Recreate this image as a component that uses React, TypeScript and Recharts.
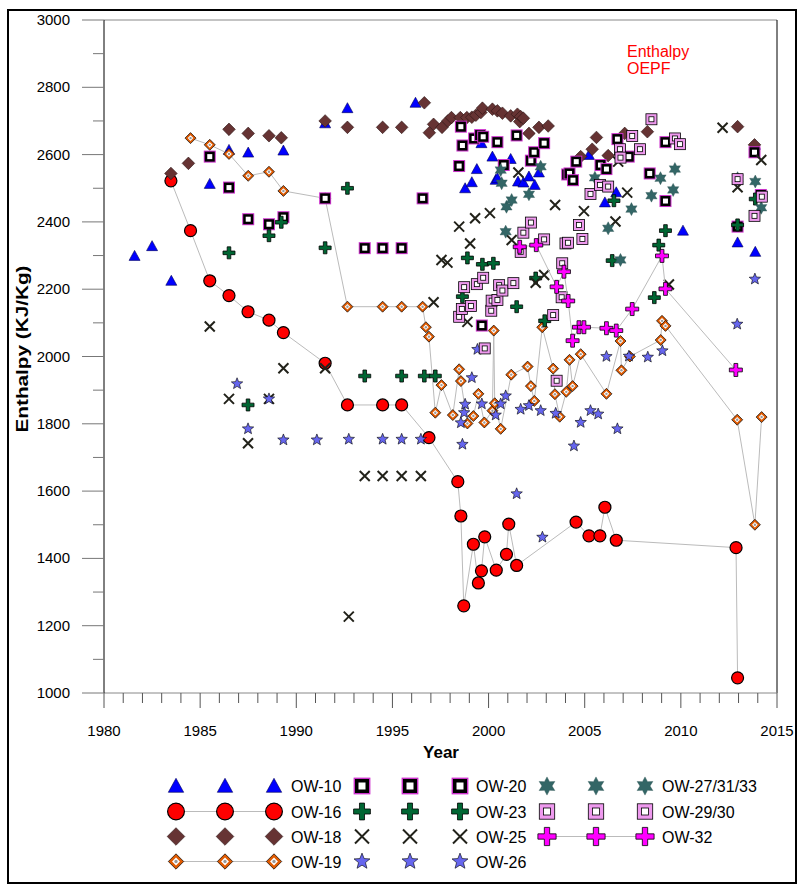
import { ScatterChart, Scatter, XAxis, YAxis, ReferenceLine } from 'recharts'

type Pt = [number, number]

// [year, enthalpy kJ/kg]
const OW10: Pt[] = [
  [1981.59, 2299], [1982.5, 2328], [1983.5, 2225], [1985.5, 2513], [1986.5, 2614], [1987.5, 2606],
  [1989.33, 2612], [1991.5, 2693], [1992.66, 2738], [1996.2, 2754], [1998.78, 2500], [1999.13, 2518],
  [1999.39, 2557], [1999.63, 2634], [2000.2, 2594], [2000.37, 2525], [2000.46, 2530], [2001.15, 2587],
  [2001.53, 2520], [2001.81, 2517], [2002.1, 2535], [2002.4, 2510], [2002.62, 2547], [2005.22, 2599],
  [2006.05, 2458], [2006.64, 2488], [2010.11, 2374], [2012.95, 2339], [2013.85, 2629], [2013.87, 2311],
]
const OW16: Pt[] = [
  [1983.48, 2522], [1984.5, 2374], [1985.5, 2225], [1986.5, 2181], [1987.49, 2133], [1988.58, 2108],
  [1989.33, 2071], [1991.5, 1980], [1992.66, 1856], [1994.49, 1856], [1995.48, 1856], [1996.9, 1759],
  [1998.4, 1628], [1998.56, 1526], [1998.71, 1259], [1999.21, 1442], [1999.47, 1327], [1999.63, 1363],
  [1999.8, 1464], [2000.4, 1365], [2000.93, 1412], [2001.05, 1502], [2001.46, 1379], [2004.55, 1508],
  [2005.22, 1467], [2005.79, 1467], [2006.05, 1552], [2006.64, 1454], [2012.87, 1432], [2012.95, 1045],
]
const OW18: Pt[] = [
  [1983.48, 2544], [1984.39, 2574], [1986.5, 2675], [1987.5, 2663], [1988.58, 2656], [1989.22, 2650],
  [1991.5, 2700], [1992.66, 2681], [1994.49, 2681], [1995.48, 2681], [1996.66, 2754], [1996.92, 2665],
  [1997.14, 2690], [1997.58, 2681], [1997.88, 2700], [1998.07, 2710], [1998.53, 2710], [1998.87, 2710],
  [1999.13, 2711], [1999.34, 2717], [1999.6, 2725], [1999.68, 2738], [2000.2, 2735], [2000.46, 2730],
  [2000.72, 2723], [2001.15, 2715], [2001.5, 2720], [2001.62, 2698], [2001.67, 2713], [2001.81, 2708],
  [2002.1, 2663], [2002.62, 2681], [2003.1, 2685], [2004.79, 2594], [2005.39, 2616], [2005.61, 2651],
  [2006.22, 2597], [2007.08, 2663], [2008.26, 2668], [2012.95, 2683], [2013.83, 2629],
]
const OW19: Pt[] = [
  [1984.5, 2649], [1985.5, 2629], [1986.5, 2602], [1987.5, 2537], [1988.58, 2549], [1989.33, 2492],
  [1991.5, 2470], [1992.66, 2148], [1994.49, 2148], [1995.48, 2148], [1996.57, 2148], [1996.74, 2087],
  [1996.9, 2059], [1997.23, 1833], [1997.55, 1915], [1998.14, 1826], [1998.47, 1962], [1998.56, 1927],
  [1998.9, 1801], [1999.21, 1823], [1999.47, 1889], [1999.78, 1804], [2000.2, 1839], [2000.27, 2077],
  [2000.32, 1861], [2000.63, 1785], [2001.18, 1946], [2002.03, 1970], [2002.2, 1912], [2002.38, 1868],
  [2002.79, 2087], [2003.36, 1964], [2003.45, 1888], [2003.7, 1821], [2004.04, 1895], [2004.21, 1990],
  [2004.37, 1912], [2004.79, 2007], [2006.13, 1889], [2006.86, 2046], [2006.91, 1959], [2007.35, 2000],
  [2008.95, 2049], [2009.02, 2106], [2009.2, 2091], [2012.93, 1812], [2013.85, 1500], [2014.2, 1820],
]
const OW20: Pt[] = [
  [1985.5, 2594], [1986.5, 2502], [1987.5, 2408], [1988.58, 2393], [1989.33, 2414], [1991.5, 2470],
  [1993.56, 2322], [1994.49, 2322], [1995.48, 2322], [1996.57, 2470], [1998.47, 2566], [1998.56, 2683],
  [1998.64, 2627], [1999.25, 2648], [1999.56, 2658], [1999.65, 2092], [1999.72, 2653], [2000.46, 2637],
  [2000.79, 2569], [2001.46, 2657], [2002.2, 2582], [2002.37, 2607], [2002.89, 2634], [2004.09, 2541],
  [2004.21, 2544], [2004.39, 2524], [2004.56, 2579], [2005.82, 2569], [2006.13, 2557], [2006.7, 2646],
  [2007.29, 2594], [2008.38, 2544], [2009.2, 2462], [2009.2, 2637], [2012.95, 2386], [2013.83, 2607],
  [2014.16, 2480],
]
const OW23: Pt[] = [
  [1986.5, 2308], [1987.49, 1856], [1988.58, 2359], [1989.22, 2399], [1991.5, 2323], [1992.66, 2500],
  [1993.56, 1942], [1995.48, 1942], [1996.66, 1942], [1997.23, 1942], [1998.64, 2178], [1998.9, 2293],
  [1999.68, 2274], [2000.25, 2277], [2001.46, 2148], [2002.45, 2233], [2002.92, 2106], [2006.43, 2285],
  [2006.52, 2463], [2008.62, 2175], [2008.85, 2331], [2009.2, 2374], [2012.95, 2391], [2013.87, 2468],
]
const OW25: Pt[] = [
  [1985.5, 2089], [1986.5, 1874], [1987.49, 1742], [1988.58, 1874], [1989.33, 1965], [1991.5, 1965],
  [1992.73, 1227], [1993.56, 1645], [1994.49, 1645], [1995.48, 1645], [1996.48, 1645], [1997.14, 2161],
  [1997.55, 2287], [1997.86, 2279], [1998.47, 2386], [1998.9, 2103], [1999.04, 2336], [1999.3, 2411],
  [2000.07, 2426], [2001.2, 2346], [2001.55, 2547], [2002.45, 2219], [2002.89, 2242], [2003.46, 2450],
  [2004.96, 2432], [2006.6, 2401], [2006.74, 2579], [2007.21, 2487], [2009.38, 2214], [2012.17, 2680],
  [2012.95, 2503], [2014.18, 2584],
]
const OW26: Pt[] = [
  [1986.92, 1919], [1987.49, 1785], [1988.58, 1874], [1989.33, 1752], [1991.07, 1752], [1992.73, 1754],
  [1994.49, 1754], [1995.48, 1754], [1996.48, 1754], [1998.56, 1803], [1998.64, 1739], [1998.73, 1833],
  [1998.78, 1858], [1999.13, 1937], [1999.42, 2021], [1999.65, 1859], [2000.37, 1826], [2000.63, 1859],
  [2000.89, 1883], [2001.46, 1592], [2001.67, 1843], [2002.1, 1854], [2002.71, 1839], [2002.8, 1463],
  [2003.49, 1831], [2004.44, 1734], [2004.79, 1804], [2005.3, 1839], [2005.7, 1829], [2006.13, 2000],
  [2006.7, 1785], [2007.3, 2001], [2008.28, 1998], [2009.04, 2017], [2012.93, 2096], [2013.85, 2230],
]
const OW27: Pt[] = [
  [2000.63, 2554], [2000.68, 2515], [2000.89, 2371], [2000.93, 2445], [2001.2, 2465], [2002.1, 2482],
  [2002.71, 2564], [2005.53, 2531], [2006.22, 2381], [2006.86, 2287], [2007.43, 2438], [2008.47, 2478],
  [2008.94, 2530], [2009.6, 2495], [2009.69, 2557], [2012.95, 2530], [2013.87, 2520], [2014.18, 2442],
]
const OW29: Pt[] = [
  [1998.47, 2118], [1998.61, 2141], [1998.73, 2206], [1999.08, 2150], [1999.39, 2215], [1999.72, 2234],
  [1999.8, 2024], [2000.14, 2136], [2000.16, 2166], [2000.46, 2168], [2000.55, 2212], [2000.72, 2196],
  [2001.29, 2218], [2001.67, 2311], [2001.81, 2368], [2002.2, 2398], [2002.89, 2348], [2003.36, 2123],
  [2003.54, 1928], [2003.8, 2176], [2003.83, 2277], [2004.0, 2336], [2004.13, 2338], [2004.7, 2391],
  [2004.88, 2349], [2005.3, 2483], [2005.79, 2510], [2006.22, 2505], [2006.83, 2616], [2006.86, 2591],
  [2007.47, 2655], [2007.87, 2616], [2008.47, 2705], [2009.69, 2648], [2009.95, 2631], [2012.95, 2527],
  [2013.83, 2418], [2014.21, 2475],
]
const OW32: Pt[] = [
  [2001.62, 2326], [2002.48, 2331], [2003.54, 2207], [2003.92, 2252], [2004.14, 2165], [2004.37, 2047],
  [2004.7, 2087], [2004.96, 2087], [2006.13, 2084], [2006.64, 2077], [2007.47, 2141], [2009.02, 2299],
  [2009.2, 2201], [2012.86, 1960],
]

const xTicks = Array.from({ length: 36 }, (_, i) => 1980 + i)
const yTicks = Array.from({ length: 21 }, (_, i) => 1000 + i * 100)

const rows = (pts: Pt[]) => pts.map(([x, y]) => ({ x, y }))

const FONT = '"Liberation Sans", Arial, sans-serif'
const LINE = '#bbbbbb'

// marker drawers, s = scale
type M = (cx: number, cy: number, s?: number) => JSX.Element

const tri: M = (cx, cy, s = 1) => (
  <path d={`M${cx},${cy - 5.5 * s}L${cx + 5.5 * s},${cy + 4.5 * s}L${cx - 5.5 * s},${cy + 4.5 * s}Z`}
    fill="#0000ff" stroke="#000055" strokeWidth={0.6} />
)
const circ: M = (cx, cy, s = 1) => <circle cx={cx} cy={cy} r={6 * s} fill="#ff0000" stroke="#000" strokeWidth={1.2} />
const diamond = (cx: number, cy: number, r: number) => `M${cx},${cy - r}L${cx + r},${cy}L${cx},${cy + r}L${cx - r},${cy}Z`
const brown: M = (cx, cy, s = 1) => <path d={diamond(cx, cy, 6.3 * s)} fill="#663333" stroke="#2a1414" strokeWidth={0.6} />
const orange: M = (cx, cy, s = 1) => (
  <g>
    <path d={diamond(cx, cy, 5.5 * s)} fill="#e05a00" stroke="#000" strokeWidth={0.7} />
    <path d={diamond(cx, cy, 2.8 * s)} fill="#fff" />
    <circle cx={cx} cy={cy} r={1.2 * s} fill="#999" />
  </g>
)
const purpleSq: M = (cx, cy, s = 1) => (
  <g>
    <rect x={cx - 6 * s} y={cy - 6 * s} width={12 * s} height={12 * s} fill="#cc33cc" />
    <rect x={cx - 5 * s} y={cy - 5 * s} width={10 * s} height={10 * s} fill="#000" />
    <rect x={cx - 2.5 * s} y={cy - 2.5 * s} width={5 * s} height={5 * s} fill="#fff" />
  </g>
)
const plus = (cx: number, cy: number, r: number, w: number) =>
  `M${cx - w},${cy - r}H${cx + w}V${cy - w}H${cx + r}V${cy + w}H${cx + w}V${cy + r}H${cx - w}V${cy + w}H${cx - r}V${cy - w}H${cx - w}Z`
const green: M = (cx, cy, s = 1) => <path d={plus(cx, cy, 6 * s, 1.8 * s)} fill="#006633" stroke="#000" strokeWidth={0.8} />
const cross: M = (cx, cy, s = 1) => (
  <path d={`M${cx - 5 * s},${cy - 5 * s}L${cx + 5 * s},${cy + 5 * s}M${cx + 5 * s},${cy - 5 * s}L${cx - 5 * s},${cy + 5 * s}`}
    stroke="#22221a" strokeWidth={2} fill="none" />
)
const starPath = (cx: number, cy: number, n: number, ro: number, ri: number) => {
  let d = ''
  for (let i = 0; i < n * 2; i++) {
    const r = i % 2 === 0 ? ro : ri
    const a = -Math.PI / 2 + (i * Math.PI) / n
    d += `${i === 0 ? 'M' : 'L'}${cx + r * Math.cos(a)},${cy + r * Math.sin(a)}`
  }
  return d + 'Z'
}
const star5: M = (cx, cy, s = 1) => <path d={starPath(cx, cy, 5, 6 * s, 2.6 * s)} fill="#6666ee" stroke="#000" strokeWidth={0.6} />
const star6: M = (cx, cy, s = 1) => <path d={starPath(cx, cy, 6, 6.5 * s, 3.6 * s)} fill="#336666" stroke="#2a5050" strokeWidth={0.4} />
const pinkSq: M = (cx, cy, s = 1) => (
  <g>
    <rect x={cx - 5.5 * s} y={cy - 5.5 * s} width={11 * s} height={11 * s} fill="#ee99ee" stroke="#000" strokeWidth={0.8} />
    <rect x={cx - 2.5 * s} y={cy - 2.5 * s} width={5 * s} height={5 * s} fill="#fff" stroke="#000" strokeWidth={0.8} />
  </g>
)
const magenta: M = (cx, cy, s = 1) => <path d={plus(cx, cy, 6.5 * s, 1.9 * s)} fill="#ff00ff" stroke="#000" strokeWidth={0.8} />

const series: { name: string; pts: Pt[]; mark: M; line?: boolean }[] = [
  { name: 'OW-10', pts: OW10, mark: tri },
  { name: 'OW-16', pts: OW16, mark: circ, line: true },
  { name: 'OW-18', pts: OW18, mark: brown },
  { name: 'OW-19', pts: OW19, mark: orange, line: true },
  { name: 'OW-20', pts: OW20, mark: purpleSq },
  { name: 'OW-23', pts: OW23, mark: green },
  { name: 'OW-25', pts: OW25, mark: cross },
  { name: 'OW-26', pts: OW26, mark: star5 },
  { name: 'OW-27/31/33', pts: OW27, mark: star6 },
  { name: 'OW-29/30', pts: OW29, mark: pinkSq },
  { name: 'OW-32', pts: OW32, mark: magenta, line: true },
]

const XTick = (p: any) => {
  const major = p.payload.value % 5 === 0
  return (
    <g>
      <line x1={p.x} x2={p.x} y1={p.y} y2={p.y + (major ? 15 : 10)} stroke="#555" />
      {major && (
        <text x={p.x} y={p.y + 43} textAnchor="middle" fontSize={15} fontFamily={FONT} fill="#000">
          {p.payload.value}
        </text>
      )}
    </g>
  )
}

const YTick = (p: any) => {
  const major = p.payload.value % 200 === 0
  return (
    <g>
      <line x1={p.x} x2={p.x - (major ? 22 : 11)} y1={p.y} y2={p.y} stroke="#777" />
      {major && (
        <text x={p.x - 34} y={p.y + 5} textAnchor="end" fontSize={15} fontFamily={FONT} fill="#000">
          {p.payload.value}
        </text>
      )}
    </g>
  )
}

// legend: three column groups, four rows
const legendRows = [786, 811.5, 836.5, 861.5]
const legendCols = [
  { xs: [176, 225, 274], tx: 291 },
  { xs: [362, 410, 460], tx: 476 },
  { xs: [547, 596, 645], tx: 662 },
]

function Legend() {
  return (
    <g>
      {series.map((s, i) => {
        const col = legendCols[i < 4 ? 0 : i < 8 ? 1 : 2]
        const y = legendRows[i < 4 ? i : i < 8 ? i - 4 : i - 8]
        return (
          <g key={s.name}>
            {s.line && <line x1={col.xs[0]} x2={col.xs[2]} y1={y} y2={y} stroke={LINE} />}
            {col.xs.map((x) => <g key={x}>{s.mark(x, y, 1.4)}</g>)}
            <text x={col.tx} y={y + 6} fontSize={16} fontFamily={FONT} fill="#000">{s.name}</text>
          </g>
        )
      })}
    </g>
  )
}

export default function App() {
  return (
    <div style={{ position: 'absolute', left: 0, top: 0, width: 798, height: 885, background: '#fff' }}>
      <div style={{ position: 'absolute', left: 7, top: 9, width: 790, height: 875, border: '2px solid #000', boxSizing: 'border-box' }} />
      <div style={{ position: 'absolute', left: 0, top: 0 }}>
        <ScatterChart width={798} height={885} margin={{ top: 20, right: 21, bottom: 132, left: 0 }}>
          <XAxis type="number" dataKey="x" domain={[1980, 2015]} ticks={xTicks} interval={0}
            tick={<XTick />} tickLine={false} tickSize={0} tickMargin={0} height={60}
            axisLine={{ stroke: '#888' }} allowDataOverflow />
          <YAxis type="number" dataKey="y" domain={[1000, 3000]} ticks={yTicks} interval={0}
            tick={<YTick />} tickLine={false} tickSize={0} tickMargin={0} width={104}
            axisLine={{ stroke: '#000' }} allowDataOverflow />
          <ReferenceLine y={3000} stroke="#888" />
          <ReferenceLine x={2015} stroke="#000" />
          {series.map((s) => (
            <Scatter key={s.name} name={s.name} data={rows(s.pts)} isAnimationActive={false}
              line={s.line ? { stroke: LINE, strokeWidth: 1 } : false}
              shape={(p: any) => s.mark(p.cx, p.cy)} />
          ))}
        </ScatterChart>
      </div>
      <svg width={798} height={885} style={{ position: 'absolute', left: 0, top: 0, pointerEvents: 'none' }}>
        <text x={627} y={57} fontSize={16} fontFamily={FONT} fill="#ff0000">Enthalpy</text>
        <text x={627} y={74} fontSize={16} fontFamily={FONT} fill="#ff0000">OEPF</text>
        <text x={441} y={758} textAnchor="middle" fontSize={17} fontWeight="bold" fontFamily={FONT} fill="#000">Year</text>
        <text transform="translate(28,349) rotate(-90)" textAnchor="middle" fontSize={16} fontWeight="bold"
          fontFamily={FONT} fill="#000" textLength={167} lengthAdjust="spacingAndGlyphs">Enthalpy (KJ/Kg)</text>
        <Legend />
      </svg>
    </div>
  )
}
